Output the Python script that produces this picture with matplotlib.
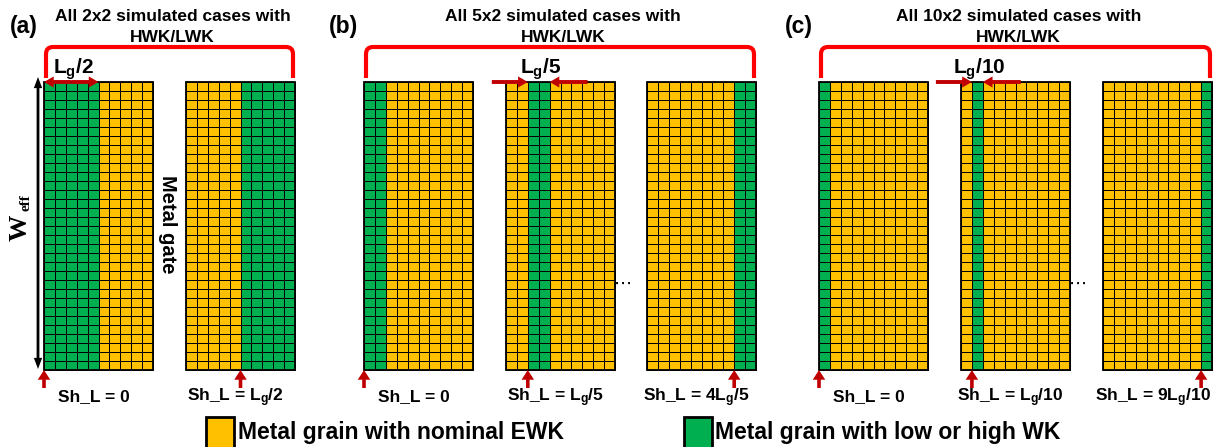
import numpy as np
import matplotlib
matplotlib.use('Agg')
import matplotlib.pyplot as plt
from matplotlib.colors import ListedColormap
from matplotlib.patches import FancyArrowPatch, Rectangle, PathPatch
from matplotlib.path import Path

plt.rcParams['font.family'] = ['Liberation Sans', 'DejaVu Sans']
plt.rcParams['font.weight'] = 'bold'
plt.rcParams['mathtext.fontset'] = 'custom'
plt.rcParams['mathtext.rm'] = 'Liberation Sans:bold'
plt.rcParams['mathtext.it'] = 'Liberation Sans:bold'
plt.rcParams['mathtext.bf'] = 'Liberation Sans:bold'
plt.rcParams['mathtext.default'] = 'bf'

# grains in one metal gate (rows along W_eff, columns along L_g)
n_rows = 32
n_cols = 10

panel_tags = ['(a)', '(b)', '(c)']
panel_titles = ['All 2x2 simulated cases with\nHWK/LWK',
                'All 5x2 simulated cases with\nHWK/LWK',
                'All 10x2 simulated cases with\nHWK/LWK']
width_labels = ['$L_g$/2', '$L_g$/5', '$L_g$/10']
width_case = [0, 3, 6]          # which gate carries the width marker

# one entry per drawn gate
case_panel = [0, 0, 1, 1, 1, 2, 2, 2]
green_cols = [[0, 1, 2, 3, 4], [5, 6, 7, 8, 9],
              [0, 1], [2, 3], [8, 9],
              [0], [1], [9]]
shift_labels = ['0', '$L_g$/2', '0', '$L_g$/5', '4$L_g$/5', '0', '$L_g$/10', '9$L_g$/10']

legend_labels = ['Metal grain with nominal EWK', 'Metal grain with low or high WK']

YELLOW = '#FFC000'
GREEN = '#00B050'
RED = '#FF0000'
DARKRED = '#C00000'

# layout (pixels, y down)
gate_x = [44, 186, 364, 506, 647, 819, 961, 1103]
gate_w = 109
gate_top, gate_bot = 82, 370
cell_w = gate_w / n_cols

fig = plt.figure(figsize=(12.25, 4.47), dpi=100)
ax = fig.add_axes([0, 0, 1, 1])
ax.set_xlim(0, 1225)
ax.set_ylim(447, 0)
ax.axis('off')

cmap = ListedColormap([YELLOW, GREEN])


def arrow(x0, y0, x1, y1, color, hl=7.5, hw=8.5, tw=2.8):
    style = f'simple,head_length={hl},head_width={hw},tail_width={tw}'
    ax.add_patch(FancyArrowPatch((x0, y0), (x1, y1), arrowstyle=style,
                                 color=color, lw=0, shrinkA=0, shrinkB=0,
                                 mutation_scale=1, zorder=5))


def bracket(x0, x1, ytop, ybot, r=7):
    verts = [(x0, ybot), (x0, ytop + r), (x0, ytop), (x0 + r, ytop),
             (x1 - r, ytop), (x1, ytop), (x1, ytop + r), (x1, ybot)]
    codes = [Path.MOVETO, Path.LINETO, Path.CURVE3, Path.CURVE3,
             Path.LINETO, Path.CURVE3, Path.CURVE3, Path.LINETO]
    ax.add_patch(PathPatch(Path(verts, codes), fill=False, edgecolor=RED,
                           lw=3.0, capstyle='butt', joinstyle='round'))


# metal gates made of grains
for i, cols in enumerate(green_cols):
    grains = np.zeros((n_rows, n_cols))
    grains[:, cols] = 1
    xe = np.linspace(gate_x[i], gate_x[i] + gate_w, n_cols + 1)
    ye = np.linspace(gate_top, gate_bot, n_rows + 1)
    ax.pcolormesh(xe, ye, grains, cmap=cmap, vmin=0, vmax=1,
                  edgecolors='k', linewidth=0.6)
    ax.add_patch(Rectangle((gate_x[i], gate_top), gate_w, gate_bot - gate_top,
                           fill=False, edgecolor='k', lw=1.3, zorder=3))

    # shift position marker and label
    xs = gate_x[i] + min(cols) * cell_w
    arrow(xs, 388, xs, 370, DARKRED, hl=7, hw=9, tw=2.6)
    ax.text(gate_x[i] + gate_w / 2 - 5, 401, 'Sh_L = ' + shift_labels[i],
            ha='center', va='baseline', fontsize=12.5, fontweight='bold')

# panel titles, tags and brackets
for p in range(3):
    members = [i for i, c in enumerate(case_panel) if c == p]
    left = gate_x[members[0]]
    right = gate_x[members[-1]] + gate_w
    ax.text((left + right) / 2 + 3, 27, panel_titles[p], ha='center', va='center',
            fontsize=12.5, fontweight='bold', linespacing=1.45)
    ax.text(left - 20, 27, panel_tags[p], ha='center', va='center',
            fontsize=16.5, fontweight='bold')
    bracket(left + 2, right - 2, 47, 78)

    # width of the low/high WK strip
    c = width_case[p]
    g0 = gate_x[c] + min(green_cols[c]) * cell_w
    g1 = gate_x[c] + (max(green_cols[c]) + 1) * cell_w
    ax.text((g0 + g1) / 2 + 2, 74, width_labels[p], ha='center', va='baseline',
            fontsize=15, fontweight='bold')
    if p == 0:
        mid = (g0 + g1) / 2
        arrow(mid, 82, g0, 82, DARKRED, hl=7, hw=8, tw=2.8)
        arrow(mid, 82, g1, 82, DARKRED, hl=7, hw=8, tw=2.8)
    else:
        arrow(g0 - 36, 82, g0, 82, DARKRED, hl=7, hw=8, tw=2.8)
        arrow(g1 + 38, 82, g1, 82, DARKRED, hl=7, hw=8, tw=2.8)

    if len(members) > 2:
        xe = gate_x[members[1]] + gate_w + 8
        ax.text(xe, 284, '\u22ef', ha='center', va='center', fontsize=13,
                family='DejaVu Sans', fontweight='normal')

# W_eff double arrow on the first gate
ymid = (gate_top + gate_bot) / 2
arrow(38, ymid, 38, 77, 'k', hl=8, hw=6, tw=2.0)
arrow(38, ymid, 38, 369, 'k', hl=8, hw=6, tw=2.0)
ax.text(20, 228, 'W', rotation=90, ha='center', va='center',
        fontsize=19, fontweight='bold', family='Liberation Serif')
ax.text(26, 203, 'eff', rotation=90, ha='center', va='center',
        fontsize=11, fontweight='bold', family='Liberation Serif')

ax.text(167, 224, 'Metal gate', rotation=-90, ha='center', va='center',
        fontsize=14.5, fontweight='bold')

# legend
for sx, tx, col, lab in [(206, 238, YELLOW, legend_labels[0]),
                         (684, 715, GREEN, legend_labels[1])]:
    ax.add_patch(Rectangle((sx, 417), 28, 32, facecolor=col, edgecolor='k',
                           lw=2.0, clip_on=False))
    ax.text(tx, 432, lab, ha='left', va='center', fontsize=16.5, fontweight='bold')

fig.savefig('out.png', dpi=100)
